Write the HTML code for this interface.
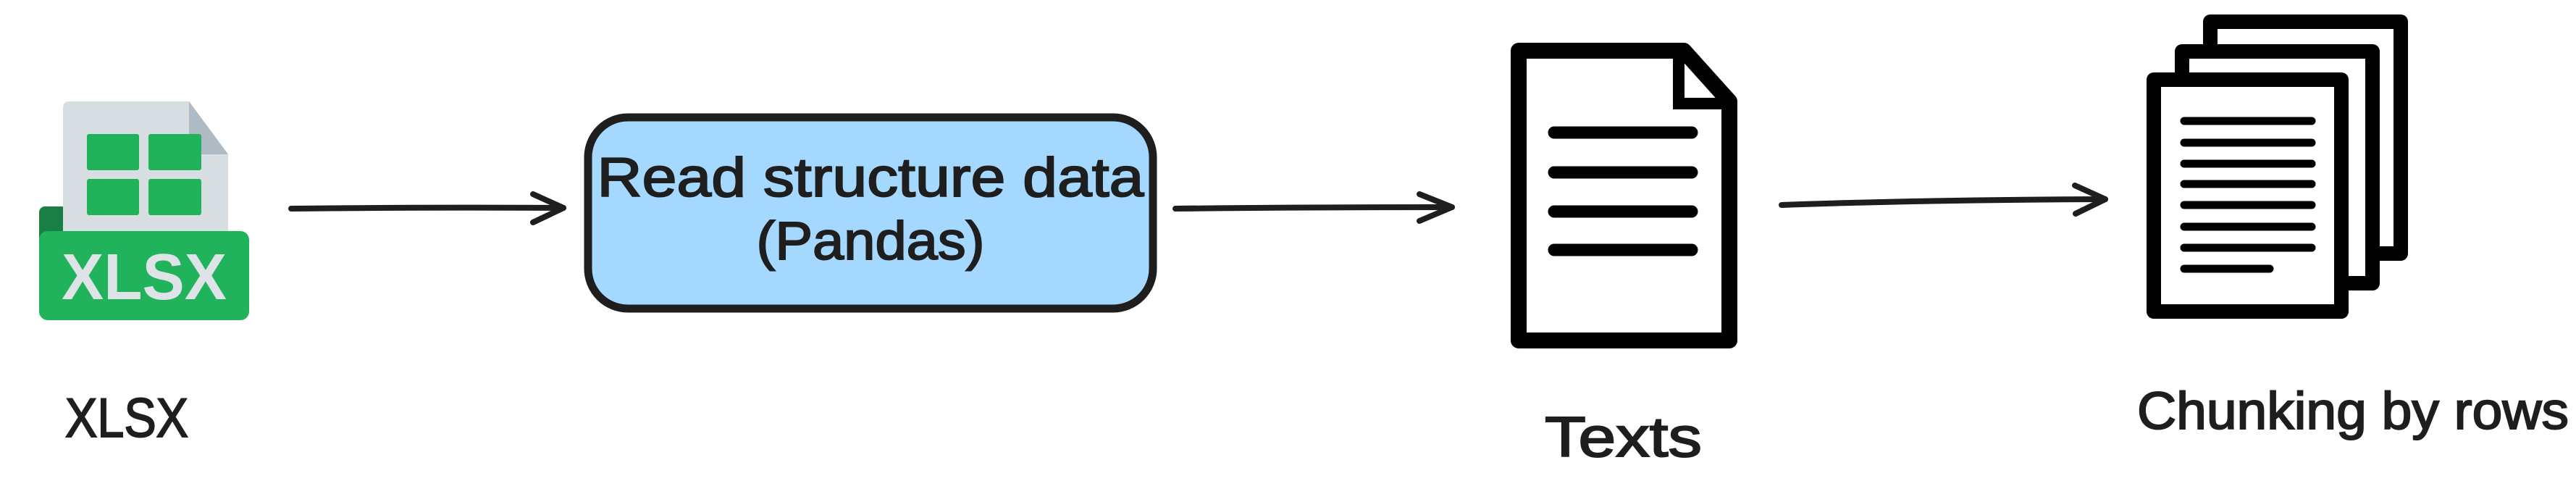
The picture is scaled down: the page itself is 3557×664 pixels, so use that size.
<!DOCTYPE html>
<html><head><meta charset="utf-8"><style>html,body{margin:0;padding:0;background:#fff}svg{display:block}</style></head>
<body>
<svg width="3557" height="664" viewBox="0 0 3557 664" xmlns="http://www.w3.org/2000/svg">
<rect width="3557" height="664" fill="#fff"/>
<!-- XLSX icon -->
<rect x="54" y="285" width="40" height="60" rx="8" fill="#1a7f44"/>
<path d="M95 140 H261 L315 213 V330 H87 V150 Q87 140 95 140Z" fill="#d6dee2"/>
<path d="M261 140 L315 213 H275 Q261 213 261 195Z" fill="#aebbc4"/>
<rect x="120" y="185" width="72" height="50" rx="3" fill="#21b35c"/>
<rect x="205" y="185" width="73" height="50" rx="3" fill="#21b35c"/>
<rect x="120" y="247" width="72" height="50" rx="3" fill="#21b35c"/>
<rect x="205" y="247" width="73" height="50" rx="3" fill="#21b35c"/>
<rect x="54" y="319" width="290" height="123" rx="12" fill="#21b35c"/>
<text x="199" y="413" text-anchor="middle" font-family="Liberation Sans, sans-serif" font-size="90" font-weight="bold" fill="#dde3e6" textLength="228" lengthAdjust="spacingAndGlyphs">XLSX</text>
<g stroke="#1e1e1e" stroke-width="8" fill="none" stroke-linecap="round" stroke-linejoin="round">
<path d="M402 288 Q600 286 778 287"/>
<path d="M736 268 L778 287 L736 307"/>
<rect x="812" y="162" width="780" height="264" rx="55" fill="#a5d8ff" stroke-width="11"/>
<path d="M1623 288 Q1800 286 2005 286"/>
<path d="M1960 268 L2005 286 L1960 305"/>
<path d="M2460 283 Q2650 276 2907 275"/>
<path d="M2865 256 L2907 275 L2866 295"/>
</g>
<g font-family="Liberation Sans, sans-serif" fill="#1e1e1e" stroke="#1e1e1e" stroke-width="2">
<text x="1202" y="271" text-anchor="middle" font-size="76" textLength="755" lengthAdjust="spacingAndGlyphs">Read structure  data</text>
<text x="1202" y="358" text-anchor="middle" font-size="74" textLength="315" lengthAdjust="spacingAndGlyphs">(Pandas)</text>
</g>
<!-- Texts doc -->
<path d="M2097 70 H2325 L2388 140 V470 H2097Z" fill="#fff" stroke="#000" stroke-width="22" stroke-linejoin="round"/>
<path d="M2318 68 V143 H2392" fill="none" stroke="#000" stroke-width="16"/>
<g stroke="#000" stroke-width="17" stroke-linecap="round">
<line x1="2146" y1="183" x2="2336" y2="183"/>
<line x1="2146" y1="238" x2="2336" y2="238"/>
<line x1="2146" y1="292" x2="2336" y2="292"/>
<line x1="2146" y1="345" x2="2336" y2="345"/>
</g>
<!-- stack -->
<g fill="#fff" stroke="#000" stroke-width="20" stroke-linejoin="round">
<rect x="3052" y="30" width="263" height="320"/>
<rect x="3013" y="71" width="263" height="320"/>
<rect x="2974" y="110" width="259" height="320"/>
</g>
<g stroke="#000" stroke-width="11" stroke-linecap="round">
<line x1="3016" y1="167" x2="3192" y2="167"/>
<line x1="3016" y1="197" x2="3192" y2="197"/>
<line x1="3016" y1="226" x2="3192" y2="226"/>
<line x1="3016" y1="254" x2="3192" y2="254"/>
<line x1="3016" y1="283" x2="3192" y2="283"/>
<line x1="3016" y1="313" x2="3192" y2="313"/>
<line x1="3016" y1="342" x2="3192" y2="342"/>
<line x1="3016" y1="371" x2="3134" y2="371"/>
</g>
<!-- labels -->
<g font-family="Liberation Sans, sans-serif" fill="#1e1e1e" stroke="#1e1e1e" stroke-width="2">
<text x="90" y="603" font-size="76" textLength="170" lengthAdjust="spacingAndGlyphs">XLSX</text>
<text x="2133" y="630" font-size="78" textLength="217" lengthAdjust="spacingAndGlyphs">Texts</text>
<text x="2951" y="592" font-size="72" textLength="596" lengthAdjust="spacingAndGlyphs">Chunking by rows</text>
</g>
</svg>
</body></html>
